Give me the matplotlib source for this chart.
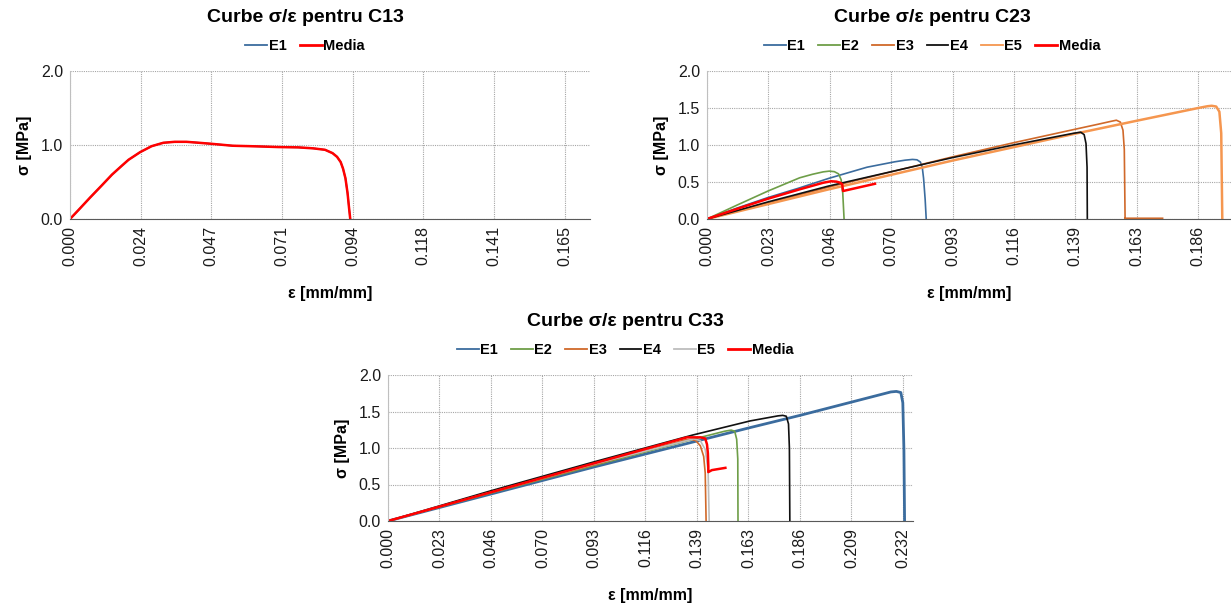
import numpy as np
import matplotlib
matplotlib.use("Agg")
import matplotlib.pyplot as plt
from matplotlib.lines import Line2D

plt.rcParams['font.family'] = ['Liberation Sans', 'DejaVu Sans']

# ---- C13 ----
c13_eps = [0, 0.0028, 0.0067, 0.0105, 0.0140, 0.0170, 0.0195, 0.0234, 0.0272, 0.0311,
           0.0349, 0.0388, 0.0430, 0.0472, 0.0542, 0.0620, 0.0696, 0.0760, 0.0810,
           0.0850, 0.0875, 0.0890, 0.0902, 0.0910, 0.0918, 0.0925, 0.0930, 0.0934]
c13_sig = [0, 0.12, 0.29, 0.45, 0.60, 0.71, 0.80, 0.904, 0.984, 1.030,
           1.043, 1.043, 1.03, 1.016, 0.990, 0.982, 0.972, 0.968, 0.955,
           0.935, 0.89, 0.84, 0.77, 0.68, 0.55, 0.35, 0.15, 0]

# ---- C23 ----
c23_e1_eps = [0, 0.0116, 0.0231, 0.035, 0.046, 0.0606, 0.0711, 0.0750, 0.0778, 0.0795, 0.0808, 0.0815, 0.0820, 0.0826, 0.083]
c23_e1_sig = [0, 0.15, 0.29, 0.42, 0.548, 0.70, 0.773, 0.795, 0.805, 0.80, 0.77, 0.70, 0.55, 0.265, 0]
c23_e2_eps = [0, 0.0115, 0.0231, 0.0351, 0.0400, 0.0440, 0.0463, 0.0482, 0.0498, 0.0508, 0.0514, 0.0519]
c23_e2_sig = [0, 0.19, 0.378, 0.557, 0.605, 0.637, 0.647, 0.640, 0.610, 0.53, 0.35, 0]
c23_e3_eps = [0, 0.046, 0.093, 0.116, 0.139, 0.148, 0.153, 0.155, 0.1565, 0.1575, 0.158, 0.1583, 0.1583, 0.1725]
c23_e3_sig = [0, 0.43, 0.84, 1.03, 1.21, 1.28, 1.32, 1.335, 1.31, 1.20, 0.94, 0.0, 0.01, 0.01]
c23_e4_eps = [0, 0.023, 0.046, 0.093, 0.116, 0.139, 0.1415, 0.1428, 0.1435, 0.1439, 0.144]
c23_e4_sig = [0, 0.23, 0.445, 0.83, 1.0, 1.16, 1.173, 1.14, 1.02, 0.70, 0]
c23_e5_eps = [0, 0.046, 0.093, 0.139, 0.163, 0.186, 0.1895, 0.1911, 0.1928, 0.1940, 0.1947, 0.1951]
c23_e5_sig = [0, 0.40, 0.79, 1.15, 1.33, 1.50, 1.524, 1.530, 1.52, 1.45, 1.16, 0]
c23_med_eps = [0, 0.0116, 0.0231, 0.035, 0.0440, 0.0470, 0.0490, 0.0505, 0.0512, 0.0515, 0.0636]
c23_med_sig = [0, 0.14, 0.274, 0.40, 0.49, 0.510, 0.505, 0.49, 0.47, 0.378, 0.476]

# ---- C33 ----
c33_e1_eps = [0, 0.093, 0.163, 0.186, 0.209, 0.2270, 0.2295, 0.2315, 0.2324, 0.2329, 0.2332]
c33_e1_sig = [0, 0.74, 1.276, 1.447, 1.627, 1.768, 1.775, 1.76, 1.62, 0.975, 0]
c33_e2_eps = [0, 0.046, 0.093, 0.139, 0.1520, 0.1549, 0.1565, 0.1574, 0.1579, 0.158]
c33_e2_sig = [0, 0.38, 0.76, 1.13, 1.23, 1.245, 1.23, 1.12, 0.85, 0]
c33_e3_eps = [0, 0.046, 0.093, 0.1340, 0.1368, 0.1390, 0.1410, 0.1425, 0.1432, 0.1436]
c33_e3_sig = [0, 0.385, 0.77, 1.11, 1.119, 1.100, 1.03, 0.885, 0.66, 0]
c33_e4_eps = [0, 0.046, 0.093, 0.1376, 0.1635, 0.1760, 0.1782, 0.1798, 0.1808, 0.1812, 0.1814]
c33_e4_sig = [0, 0.41, 0.81, 1.178, 1.371, 1.440, 1.447, 1.435, 1.33, 1.0, 0]
c33_e5_eps = [0, 0.046, 0.093, 0.138, 0.1410, 0.1432, 0.1445, 0.1450]
c33_e5_sig = [0, 0.39, 0.78, 1.125, 1.10, 0.98, 0.7, 0]
c33_med_eps = [0, 0.046, 0.093, 0.135, 0.141, 0.1432, 0.1440, 0.1444, 0.1446, 0.1446, 0.1462, 0.1523]
c33_med_sig = [0, 0.39, 0.79, 1.146, 1.146, 1.13, 1.05, 0.93, 0.75, 0.67, 0.697, 0.728]

COL_E1 = '#3B6C9E'
COL_E2 = '#6E9E48'
COL_E3 = '#D0692A'
COL_E4 = '#111111'
COL_E5_23 = '#F5964F'
COL_E5_33 = '#BDBDBD'
COL_MED = '#FF0000'

W, H = 1231, 603
fig = plt.figure(figsize=(W / 100, H / 100), dpi=100)


def make_ax(left, right, top, bottom, step, nticks, xmax, yticks):
    ax = fig.add_axes([left / W, 1 - bottom / H, (right - left) / W, (bottom - top) / H])
    ax.set_xlim(0, xmax)
    ax.set_ylim(0, 2.0)
    xt = [i * step for i in range(nticks)]
    ax.set_xticks(xt)
    ax.set_xticklabels(['%.3f' % v for v in xt], rotation=90, fontsize=11.5, color='#1a1a1a')
    ax.set_yticks(yticks)
    ax.set_yticklabels(['%.1f' % v for v in yticks], fontsize=11.5, color='#1a1a1a')
    ax.tick_params(length=0, pad=5)
    ax.grid(True, color='#A6A6A6', linestyle=(0, (1, 1)), linewidth=0.8)
    ax.set_axisbelow(True)
    for s in ['top', 'right']:
        ax.spines[s].set_visible(False)
    ax.spines['left'].set_color('#BFBFBF')
    ax.spines['bottom'].set_color('#595959')
    ax.spines['left'].set_linewidth(0.8)
    ax.spines['bottom'].set_linewidth(0.8)
    ax.set_xlabel('ε [mm/mm]', fontsize=11.5, fontweight='bold', labelpad=14)
    ax.set_ylabel('σ [MPa]', fontsize=11.5, fontweight='bold', labelpad=6)
    return ax


def header(title, cx, ty, ly, names, colors):
    fig.text(cx / W, 1 - ty / H, title, ha='center', va='center', fontsize=14, fontweight='bold')
    handles = [Line2D([], [], color=c, lw=2.0 if n == 'Media' else 1.3) for n, c in zip(names, colors)]
    fig.legend(handles, names, loc='center', bbox_to_anchor=(cx / W, 1 - ly / H), ncol=len(names),
               frameon=False, prop={'weight': 'bold', 'size': 10.5}, handlelength=1.5,
               handletextpad=0.1, columnspacing=0.9)


# C13
ax1 = make_ax(70, 590, 71, 219, 0.02355, 8, 0.1733, [0.0, 1.0, 2.0])
ax1.plot(c13_eps, c13_sig, color=COL_E1, lw=1.2)
ax1.plot(c13_eps, c13_sig, color=COL_MED, lw=1.8)
header('Curbe σ/ε pentru C13', 305, 17, 46, ['E1', 'Media'], [COL_E1, COL_MED])

# C23
ax2 = make_ax(707, 1231, 71, 219, 0.023245, 9, 0.1984, [0.0, 0.5, 1.0, 1.5, 2.0])
ax2.plot(c23_e1_eps, c23_e1_sig, color=COL_E1, lw=1.2)
ax2.plot(c23_e2_eps, c23_e2_sig, color=COL_E2, lw=1.2)
ax2.plot(c23_e3_eps, c23_e3_sig, color=COL_E3, lw=1.2)
ax2.plot(c23_e5_eps, c23_e5_sig, color=COL_E5_23, lw=1.8)
ax2.plot(c23_e4_eps, c23_e4_sig, color=COL_E4, lw=1.2)
ax2.plot(c23_med_eps, c23_med_sig, color=COL_MED, lw=1.8)
header('Curbe σ/ε pentru C23', 932, 17, 46, ['E1', 'E2', 'E3', 'E4', 'E5', 'Media'],
       [COL_E1, COL_E2, COL_E3, COL_E4, COL_E5_23, COL_MED])

# C33
ax3 = make_ax(388, 913, 375, 521, 0.023245, 11, 0.237, [0.0, 0.5, 1.0, 1.5, 2.0])
ax3.plot(c33_e1_eps, c33_e1_sig, color=COL_E1, lw=2.0)
ax3.plot(c33_e2_eps, c33_e2_sig, color=COL_E2, lw=1.2)
ax3.plot(c33_e3_eps, c33_e3_sig, color=COL_E3, lw=1.2)
ax3.plot(c33_e4_eps, c33_e4_sig, color=COL_E4, lw=1.2)
ax3.plot(c33_e5_eps, c33_e5_sig, color=COL_E5_33, lw=1.2)
ax3.plot(c33_med_eps, c33_med_sig, color=COL_MED, lw=1.8)
header('Curbe σ/ε pentru C33', 625, 321, 350, ['E1', 'E2', 'E3', 'E4', 'E5', 'Media'],
       [COL_E1, COL_E2, COL_E3, COL_E4, COL_E5_33, COL_MED])

fig.savefig('out.png', dpi=100)
